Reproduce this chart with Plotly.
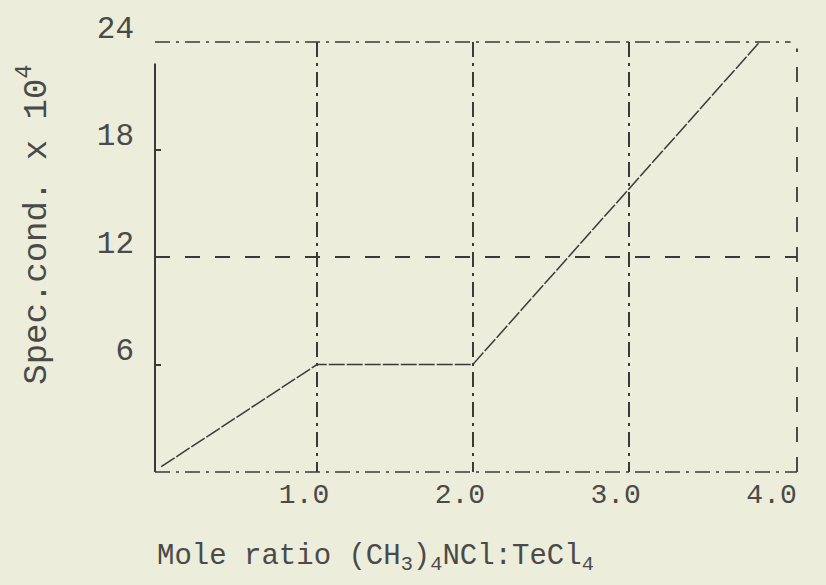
import plotly.graph_objects as go

# data
mole_ratio = [0.0, 1.0, 2.0, 2.03, 3.84]
spec_cond = [0.3, 6.0, 6.0, 6.3, 24.0]

x_tick_vals = [1, 2, 3, 4]
x_tick_text = ["1.0", "2.0", "3.0", "4.0"]
y_tick_vals = [6, 12, 18, 24]
y_tick_text = ["6", "12", "18", "24"]
x_grid_vals = [1, 2, 3]
y_grid_vals = [12]

BG = "#ecedda"
INK = "#3a3a38"
TXT = "#4a4a48"
FONT = "Liberation Mono, Courier New, monospace"

fig = go.Figure()
fig.add_trace(go.Scatter(
    x=mole_ratio, y=spec_cond, mode="lines",
    line=dict(color=INK, width=1.5, dash="16px,2px"),
    showlegend=False, hoverinfo="skip",
))
# invisible trace to carry the grid axes
fig.add_trace(go.Scatter(
    x=[mole_ratio[0]], y=[spec_cond[0]], xaxis="x2", yaxis="y2",
    mode="markers", marker=dict(opacity=0), showlegend=False, hoverinfo="skip",
))

xr = [-0.04, 4.08]
yr = [0, 24]

fig.update_layout(
    width=826, height=585,
    margin=dict(l=155, r=29, t=37, b=113),
    paper_bgcolor=BG, plot_bgcolor=BG,
    font=dict(family=FONT, color=TXT, size=26),
    xaxis=dict(
        range=xr, tickvals=x_tick_vals, ticktext=x_tick_text,
        showgrid=False, zeroline=False, showline=False, ticks="",
        ticklabelshift=-13, ticklabelstandoff=2,
        tickfont=dict(family=FONT, size=28, color=TXT),
    ),
    yaxis=dict(
        range=yr, tickvals=y_tick_vals, ticktext=y_tick_text,
        showgrid=False, zeroline=False, showline=False,
        ticks="inside", ticklen=6, tickcolor=INK, tickwidth=1.5,
        ticklabelshift=-15, ticklabelstandoff=20,
        tickfont=dict(family=FONT, size=31, color=TXT),
    ),
    xaxis2=dict(
        range=xr, overlaying="x", anchor="y2", tickvals=x_grid_vals,
        showticklabels=False, showgrid=True, gridcolor=INK, gridwidth=1.5,
        griddash="longdashdot", zeroline=False, showline=False, ticks="",
    ),
    yaxis2=dict(
        range=yr, overlaying="y", anchor="x2", tickvals=y_grid_vals,
        showticklabels=False, showgrid=True, gridcolor=INK, gridwidth=1.5,
        griddash="longdash", zeroline=False, showline=False, ticks="",
    ),
    shapes=[
        dict(type="line", xref="paper", yref="paper", x0=0, x1=0, y0=0, y1=0.95,
             line=dict(color=INK, width=2, dash="solid")),
        dict(type="line", xref="paper", yref="paper", x0=0, x1=1, y0=0, y1=0,
             line=dict(color=INK, width=1.6, dash="longdashdot")),
        dict(type="line", xref="paper", yref="paper", x0=0, x1=0.99, y0=1, y1=1,
             line=dict(color=INK, width=1.6, dash="longdashdot")),
        dict(type="line", xref="paper", yref="paper", x0=1, x1=1, y0=0, y1=0.985,
             line=dict(color=INK, width=1.8, dash="longdash")),
    ],
    annotations=[
        dict(text="Mole ratio (CH<sub>3</sub>)<sub>4</sub>NCl:TeCl<sub>4</sub>",
             xref="paper", yref="paper", x=0.0, y=-0.20, xanchor="left", yanchor="middle",
             showarrow=False, font=dict(family=FONT, size=29, color=TXT)),
        dict(text="Spec.cond. x 10<sup>4</sup>", textangle=-90,
             xref="paper", yref="paper", x=-0.19, y=0.575, xanchor="center", yanchor="middle",
             showarrow=False, font=dict(family=FONT, size=34, color=TXT)),
    ],
)

fig.write_html(
    "out.html",
    config={"displayModeBar": False},
    post_script="document.body.style.margin='0';document.body.style.background='%s';" % BG,
)
